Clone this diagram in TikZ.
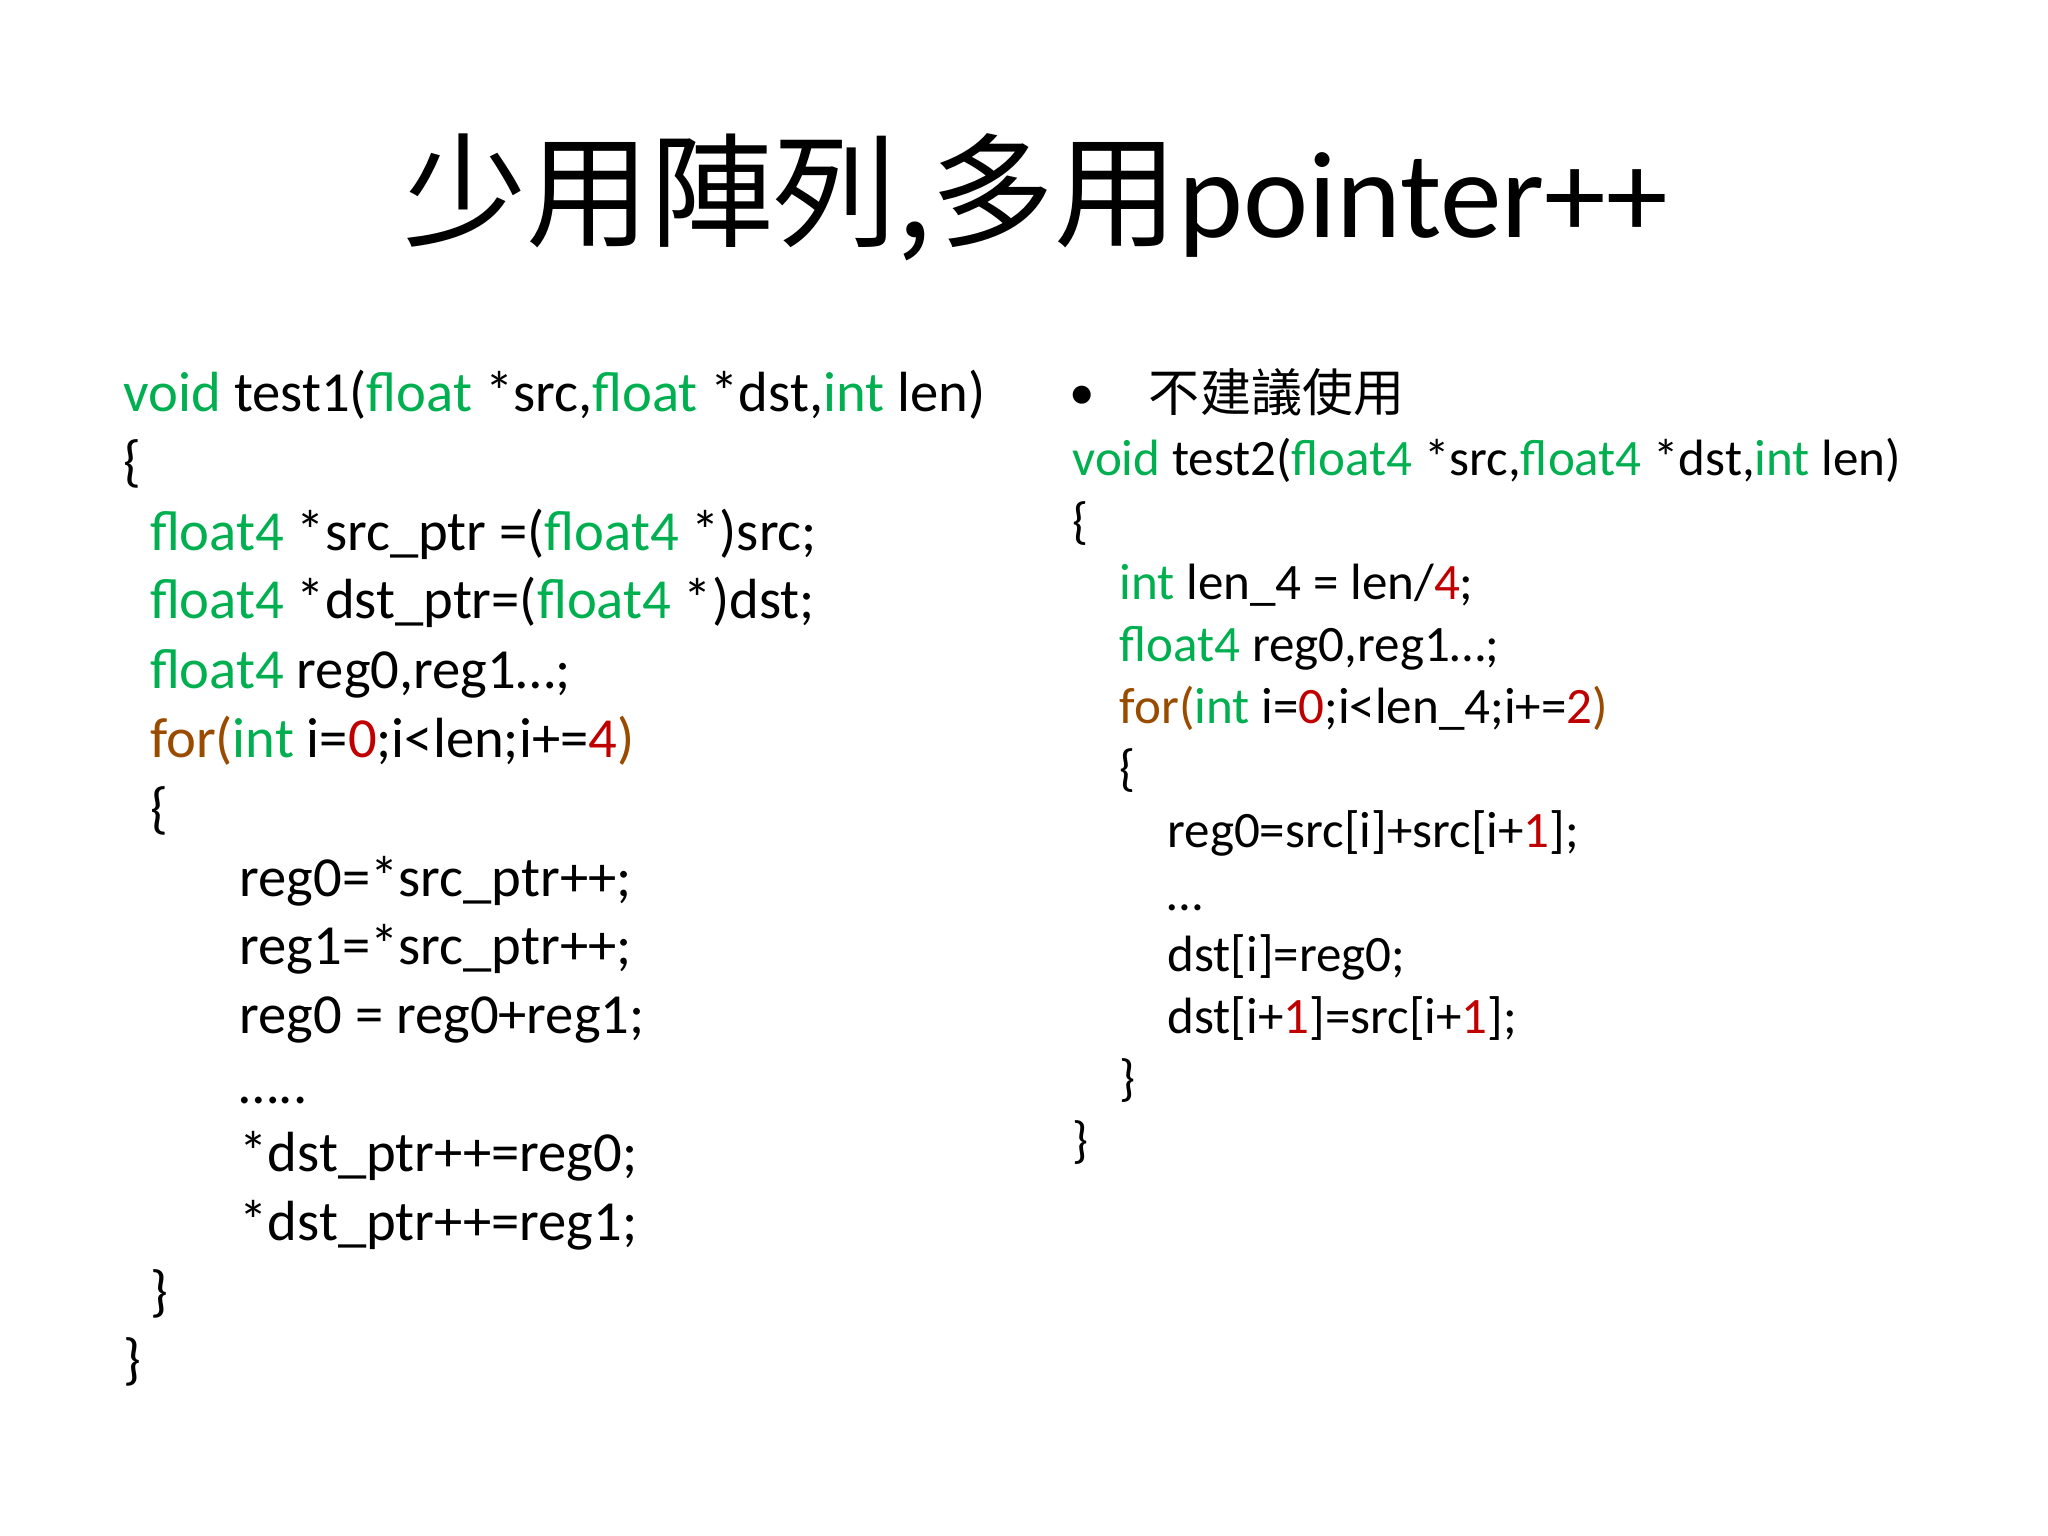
\documentclass[tikz,border=0pt]{standalone}
\usepackage{fontspec}
\setmainfont{Carlito}
\newfontfamily\cjk{Noto Sans CJK TC}
\definecolor{kg}{RGB}{0,176,80}
\definecolor{kb}{RGB}{153,76,0}
\definecolor{kr}{RGB}{192,0,0}
\newcommand{\G}[1]{\textcolor{kg}{#1}}
\newcommand{\B}[1]{\textcolor{kb}{#1}}
\newcommand{\R}[1]{\textcolor{kr}{#1}}
\begin{document}
\begin{tikzpicture}[x=0.01cm,y=-0.01cm,
  lc/.style={anchor=base west,inner sep=0pt,font=\fontsize{12.2pt}{13pt}\selectfont},
  rc/.style={anchor=base west,inner sep=0pt,font=\fontsize{11pt}{12pt}\selectfont}]
\useasboundingbox[fill=white] (0,0) rectangle (1552,1164);
\node[anchor=base,inner sep=0pt,font=\fontsize{26.6pt}{30pt}\selectfont] (title) at (785,180) {{\cjk 少用陣列,多用}pointer++};
\node[lc] (l1) at (93,312) {\G{void} test1(\G{float} *src,\G{float} *dst,\G{int} len)};
\node[lc] (l2) at (93,364) {\{};
\node[lc] (l3) at (113,417) {\G{float4} *src\_ptr =(\G{float4} *)src;};
\node[lc] (l4) at (113,469) {\G{float4} *dst\_ptr=(\G{float4} *)dst;};
\node[lc] (l5) at (113,522) {\G{float4} reg0,reg1…;};
\node[lc] (l6) at (113,574) {\B{for(}\G{int} i=\R{0};i<len;i+=\R{4}\B{)}};
\node[lc] (l7) at (113,627) {\{};
\node[lc] (l8) at (181,679) {reg0=*src\_ptr++;};
\node[lc] (l9) at (181,731) {reg1=*src\_ptr++;};
\node[lc] (l10) at (181,783) {reg0 = reg0+reg1;};
\node[lc] (l11) at (181,836) {…..};
\node[lc] (l12) at (181,888) {*dst\_ptr++=reg0;};
\node[lc] (l13) at (181,940) {*dst\_ptr++=reg1;};
\node[lc] (l14) at (113,993) {\}};
\node[lc] (l15) at (93,1045) {\}};
\node[rc] (bul) at (810,310) {•};
\node[rc] (r0) at (870,312) {{\cjk 不建議使用}};
\node[rc] (r1) at (812,360) {\G{void} test2(\G{float4} *src,\G{float4} *dst,\G{int} len)};
\node[rc] (r2) at (812,408) {\{};
\node[rc] (r3) at (848,454) {\G{int} len\_4 = len/\R{4};};
\node[rc] (r4) at (848,501) {\G{float4} reg0,reg1…;};
\node[rc] (r5) at (848,548) {\B{for(}\G{int} i=\R{0};i<len\_4;i+=\R{2}\B{)}};
\node[rc] (r6) at (848,595) {\{};
\node[rc] (r7) at (884,642) {reg0=src[i]+src[i+\R{1}];};
\node[rc] (r8) at (884,690) {…};
\node[rc] (r9) at (884,736) {dst[i]=reg0;};
\node[rc] (r10) at (884,783) {dst[i+\R{1}]=src[i+\R{1}];};
\node[rc] (r11) at (848,830) {\}};
\node[rc] (r12) at (812,877) {\}};
\end{tikzpicture}
\end{document}
